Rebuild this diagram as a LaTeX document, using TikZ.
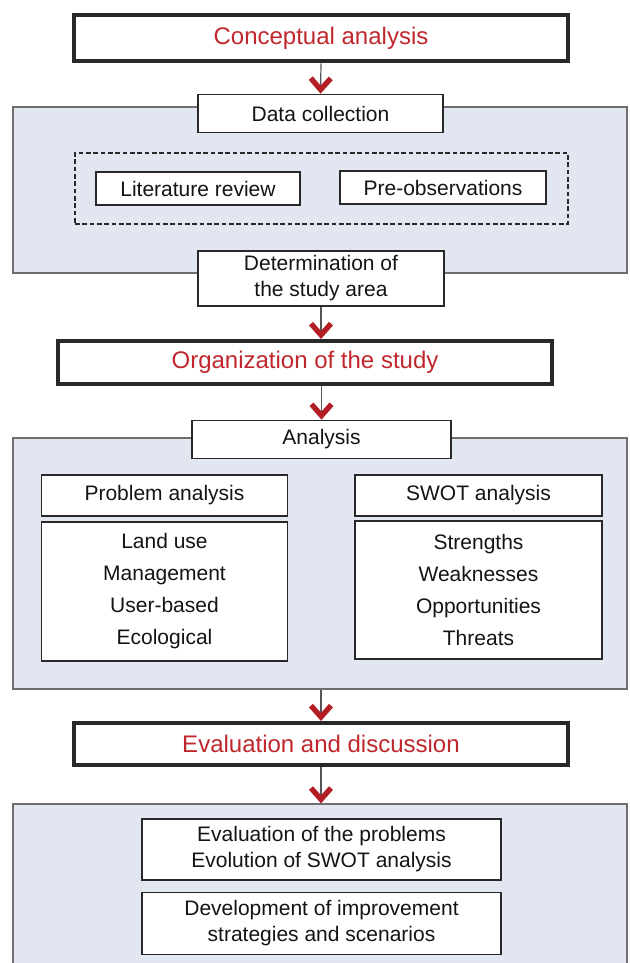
\documentclass[tikz,border=0pt]{standalone}
\usepackage{fontspec}
\setmainfont{Liberation Sans}
\usetikzlibrary{arrows.meta}
\definecolor{stagered}{RGB}{192,39,45}
\definecolor{chevred}{RGB}{178,30,36}
\definecolor{panelblue}{RGB}{225,230,241}
\definecolor{framegray}{RGB}{110,110,110}
\definecolor{boxline}{RGB}{40,40,40}
\definecolor{flowgray}{RGB}{85,85,85}

\tikzset{
  box/.style={draw=boxline, line width=1.3pt, fill=white, inner sep=0pt, align=center, text={rgb,255:red,20;green,20;blue,20}, font=\fontsize{15.75}{19.5}\selectfont},
  listbox/.style={box, font=\fontsize{15.75}{24}\selectfont},
  stagebox/.style={box, line width=3pt, text=stagered, font=\fontsize{18}{22}\selectfont},
  panel/.style={draw=framegray, line width=0.9pt, fill=panelblue, inner sep=0pt},
  flow/.style={draw=flowgray, line width=0.9pt, -{Straight Barb[length=8.5pt,width=15pt,line width=4pt,line cap=butt,sharp,color=chevred]}},
}

\begin{document}
\begin{tikzpicture}[x=0.75pt,y=0.75pt,yscale=-1,xscale=1]
\clip (0,0) rectangle (629,963); %set diagram to 629 x 963

%Shape: Panels [id:collect, results, outcome]
\node[panel, minimum width=460.5pt, minimum height=124.5pt] (collect) at (320,190) {};
\node[panel, minimum width=460.5pt, minimum height=188.25pt] (results) at (320,563.5) {};
\node[panel, minimum width=460.5pt, minimum height=139.5pt] (outcome) at (320,897) {};

%Shape: Dashed frame [id:sources]
\node[draw=boxline, dash pattern=on 3.5pt off 2pt, line width=1.1pt, inner sep=0pt, minimum width=369.75pt, minimum height=53.25pt] (sources) at (321.5,188.5) {};

% Text Node
\node[stagebox, minimum width=370.5pt, minimum height=34.5pt] (concept) at (321,38.5) {Conceptual analysis};
% Text Node
\node[box, minimum width=183.75pt, minimum height=28.5pt] (datacoll) at (320.5,113.5) {Data collection};
% Text Node
\node[box, minimum width=153pt, minimum height=24.75pt] (litrev) at (198,188.5) {Literature review};
% Text Node
\node[box, minimum width=154.5pt, minimum height=24.75pt] (preobs) at (443,187.5) {Pre-observations};
% Text Node
\node[box, minimum width=184.5pt, minimum height=41.25pt] (studyarea) at (321,278.5) {Determination of\\the study area};
% Text Node
\node[stagebox, minimum width=370.5pt, minimum height=32.25pt] (org) at (305,362.5) {Organization of the study};
% Text Node
\node[box, minimum width=194.25pt, minimum height=28.5pt] (analysis) at (321.5,439.5) {Analysis};
% Text Node
\node[box, minimum width=184.5pt, minimum height=30.75pt] (probana) at (164.5,495.5) {Problem analysis};
% Text Node
\node[listbox, minimum width=184.5pt, minimum height=104.25pt] (problist) at (164.5,591.5) {Land use\\Management\\User-based\\Ecological};
% Text Node
\node[box, minimum width=185.25pt, minimum height=30.75pt] (swotana) at (478.5,495.5) {SWOT analysis};
% Text Node
\node[listbox, minimum width=185.25pt, minimum height=103.5pt] (swotlist) at (478.5,590) {Strengths\\Weaknesses\\Opportunities\\Threats};
% Text Node
\node[stagebox, minimum width=370.5pt, minimum height=31.5pt] (evaluation) at (321,744) {Evaluation and discussion};
% Text Node
\node[box, minimum width=269.25pt, minimum height=45.75pt] (evalprob) at (321.5,849.5) {Evaluation of the problems\\Evolution of SWOT analysis};
% Text Node
\node[box, minimum width=269.25pt, minimum height=46.5pt] (devel) at (321.5,923.5) {Development of improvement\\strategies and scenarios};

% Connectors
\draw[flow] (concept.south) -- (datacoll.north);
\draw[flow] (studyarea.south) -- (studyarea.south |- org.north);
\draw[flow] (analysis.north |- org.south) -- (analysis.north);
\draw[flow] (evaluation.north |- results.south) -- (evaluation.north);
\draw[flow] (evaluation.south) -- (evaluation.south |- outcome.north);

\end{tikzpicture}
\end{document}
